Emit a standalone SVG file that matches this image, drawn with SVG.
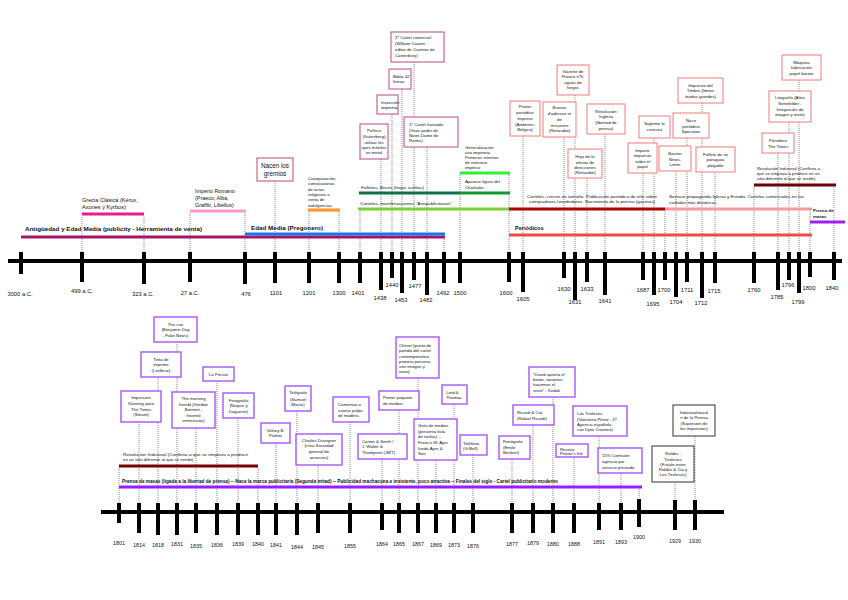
<svg xmlns="http://www.w3.org/2000/svg" width="848" height="600" viewBox="0 0 848 600">
<style>
text{font-family:'Liberation Sans',Arial,sans-serif;fill:#111}
.s{font-size:4.3px}
.m{font-size:4.3px;text-anchor:middle}
.yr{font-size:5.8px;text-anchor:middle}
.yb{font-size:5.3px;text-anchor:middle}
.b{font-weight:bold}
.ax{stroke:#000;stroke-width:4;stroke-linecap:square}
.tk{stroke:#000;stroke-width:4}
.dl{stroke:#444;stroke-width:0.6;stroke-dasharray:1 1;fill:none}
.bar{stroke-width:3.2;fill:none}
.bm{stroke:#b8468a;stroke-width:1;fill:#fff}
.br{stroke:#f07a7a;stroke-width:1;fill:#fff}
.bp{stroke:#a855f7;stroke-width:1.4;fill:#fff}
.bk{stroke:#333;stroke-width:1;fill:#fff}
</style>
<rect width="848" height="600" fill="#fff"/>

<g id="connectors">
<!-- top -->
<path class="dl" d="M82 217V252M144 217V252M190 213V252M245 213V252M275 181V252M309 211V252M339 211V252M360 211V252M381 159V252M392 114V252M402 89V252M414 62V252M427 147V252M444 239V252M460 175V252M509 175V252M523 136V252M564 137V252M575 95V252M587 178V252M605 134V252M643 173V252M654 138V252M665 210V252M676 171V252M687 138V252M702 103V252M715 172V252M754 187V252M778 153V252M789 122V252M799 80V252M810 210V252M834 187V252"/>
<!-- bottom -->
<path class="dl" d="M119 468V503M139 422V503M158 377V503M177 342V503M196 428V503M217 381V503M238 418V503M258 468V503M276 443V503M297 411V503M318 465V503M350 422V503M382 459V503M399 410V503M418 378V503M436 460V503M454 404V503M473 455V503M512 459V503M533 425V503M553 397V503M574 457V503M599 436V503M621 473V503M639 489V499M675 482V500M695 436V500"/>
</g>

<g id="axis-top">
<line class="ax" x1="10" y1="261" x2="840" y2="261"/>
<path class="tk" d="M21 252V274M82 252V282M144 252V284M190 252V282M245 252V284M275 252V283M309 252V283M339 252V283M360 252V283M381 252V290M392 252V278M402 252V293M414 252V280M427 252V295M444 252V283M460 252V283M509 252V282M523 252V292M564 252V278M575 252V300M587 252V282M605 252V295M643 252V280M654 252V295M665 252V280M676 252V297M687 252V282M702 252V298M715 252V283M754 252V283M778 252V290M789 252V280M799 252V293M810 252V277M834 252V280"/>
<text class="yr" x="20" y="296">3000 a.C.</text>
<text class="yr" x="82" y="293">499 a.C.</text>
<text class="yr" x="143" y="296">323 a.C.</text>
<text class="yr" x="190" y="295">27 a.C.</text>
<text class="yr" x="246" y="296">476</text>
<text class="yr" x="276" y="295">1101</text>
<text class="yr" x="309" y="295">1201</text>
<text class="yr" x="339" y="295">1300</text>
<text class="yr" x="358" y="295">1401</text>
<text class="yr" x="380" y="300">1438</text>
<text class="yr" x="392" y="287">1440</text>
<text class="yr" x="401" y="302">1453</text>
<text class="yr" x="415" y="288">1477</text>
<text class="yr" x="426" y="302">1482</text>
<text class="yr" x="443" y="295">1492</text>
<text class="yr" x="460" y="295">1500</text>
<text class="yr" x="506" y="295">1600</text>
<text class="yr" x="523" y="301">1605</text>
<text class="yr" x="564" y="291">1630</text>
<text class="yr" x="575" y="304">1631</text>
<text class="yr" x="587" y="291">1633</text>
<text class="yr" x="605" y="303">1641</text>
<text class="yr" x="643" y="292">1687</text>
<text class="yr" x="653" y="306">1695</text>
<text class="yr" x="664" y="292">1700</text>
<text class="yr" x="676" y="304">1704</text>
<text class="yr" x="687" y="292">1711</text>
<text class="yr" x="701" y="305">1712</text>
<text class="yr" x="714" y="293">1715</text>
<text class="yr" x="754" y="292">1760</text>
<text class="yr" x="777" y="299">1785</text>
<text class="yr" x="788" y="287">1796</text>
<text class="yr" x="798" y="304">1799</text>
<text class="yr" x="809" y="290">1800</text>
<text class="yr" x="832" y="290">1840</text>
</g>

<g id="axis-bottom">
<line class="ax" x1="103" y1="512" x2="722" y2="512"/>
<path class="tk" d="M119 503V523M139 503V533M158 503V535M177 503V535M196 503V533M217 503V535M238 503V535M258 503V535M276 503V535M297 503V535M318 503V533M350 503V533M382 503V530M399 503V533M418 503V533M436 503V533M454 503V533M473 503V533M512 503V533M533 503V533M553 503V533M574 503V533M599 503V530M621 503V530M639 499V527M675 500V530M695 500V530"/>
<text class="yb" x="119" y="545">1801</text>
<text class="yb" x="139" y="547">1814</text>
<text class="yb" x="158" y="547">1818</text>
<text class="yb" x="177" y="546">1831</text>
<text class="yb" x="196" y="548">1835</text>
<text class="yb" x="217" y="547">1836</text>
<text class="yb" x="238" y="546">1839</text>
<text class="yb" x="258" y="546">1840</text>
<text class="yb" x="276" y="547">1841</text>
<text class="yb" x="297" y="549">1844</text>
<text class="yb" x="318" y="549">1845</text>
<text class="yb" x="350" y="548">1855</text>
<text class="yb" x="382" y="546">1864</text>
<text class="yb" x="399" y="546">1865</text>
<text class="yb" x="418" y="546">1867</text>
<text class="yb" x="436" y="547">1869</text>
<text class="yb" x="454" y="547">1873</text>
<text class="yb" x="473" y="548">1876</text>
<text class="yb" x="512" y="546">1877</text>
<text class="yb" x="533" y="545">1879</text>
<text class="yb" x="553" y="546">1880</text>
<text class="yb" x="574" y="546">1888</text>
<text class="yb" x="599" y="544">1891</text>
<text class="yb" x="621" y="544">1893</text>
<text class="yb" x="639" y="539">1900</text>
<text class="yb" x="675" y="543">1929</text>
<text class="yb" x="695" y="543">1930</text>
</g>

<!-- top bars -->
<g id="antiguedad">
<line class="bar" x1="21" y1="237" x2="445" y2="237" stroke="#a31567"/>
<text class="b" x="25" y="231" font-size="5.8" textLength="177" lengthAdjust="spacingAndGlyphs">Antigüedad y Edad Media (publicity - Herramienta de venta)</text>
</g>
<g id="edad-media">
<line class="bar" x1="245" y1="234" x2="445" y2="234" stroke="#1a73e8"/>
<text class="b" x="251" y="230" font-size="6" textLength="72" lengthAdjust="spacingAndGlyphs">Edad Media (Pregonero)</text>
</g>
<g id="grecia">
<line class="bar" x1="82" y1="214" x2="144" y2="214" stroke="#ec1c8c"/>
<text x="82" y="201.5" font-size="5.6">Grecia Clásica (Kérux,</text>
<text x="82" y="209" font-size="5.6">Axones y Kyrbos)</text>
</g>
<g id="imperio">
<line class="bar" x1="190" y1="211" x2="246" y2="211" stroke="#ff99cc"/>
<text x="195" y="192.5" font-size="5.4">Imperio Romano</text>
<text x="195" y="199.5" font-size="5.4">(Praeco, Alba,</text>
<text x="195" y="206.5" font-size="5.4">Graffiti, Libellus)</text>
</g>
<g id="catequizacion">
<line class="bar" x1="308" y1="210" x2="340" y2="210" stroke="#ff9933"/>
<text class="s" x="308" y="179.8">Catequización,</text>
<text class="s" x="308" y="184.8">convocatorias</text>
<text class="s" x="308" y="190.5">de actos</text>
<text class="s" x="308" y="195.5">religiosos o</text>
<text class="s" x="308" y="201.2">venta de</text>
<text class="s" x="308" y="206.5">indulgencias</text>
</g>
<g id="folletos">
<line class="bar" x1="359" y1="193" x2="460" y2="193" stroke="#11704a"/>
<line class="bar" x1="460" y1="193" x2="510" y2="193" stroke="#0d9a2e"/>
<text class="s" x="361" y="189" textLength="63" lengthAdjust="spacingAndGlyphs">Folletos, Bisuts (hojas sueltas)</text>
</g>
<g id="cartelas">
<line class="bar" x1="358" y1="209" x2="510" y2="209" stroke="#7ccf3a"/>
<text class="s" x="360" y="205" textLength="92" lengthAdjust="spacingAndGlyphs">Cartelas, manifestaciones "Antipublicitarias"</text>
</g>
<g id="generalizacion">
<line class="bar" x1="460" y1="173" x2="510" y2="173" stroke="#33ee33"/>
<text class="s" x="465" y="148.8">Generalización</text>
<text class="s" x="465" y="154.2">uso imprenta.</text>
<text class="s" x="465" y="159.2">Primeros intentos</text>
<text class="s" x="465" y="164.2">de noticiero</text>
<text class="s" x="465" y="168.8">impreso</text>
<text class="s" x="465" y="183">Aparece figura del</text>
<text class="s" x="465" y="188.5">Charlatán</text>
</g>
<g id="carteles-1600">
<line class="bar" x1="509" y1="209" x2="665" y2="209" stroke="#b00000"/>
<text class="m" x="592" y="197.5" textLength="130" lengthAdjust="spacingAndGlyphs">Carteles, crecen en tamaño. Publicación periódica de info sobre</text>
<text class="m" x="592" y="203" textLength="126" lengthAdjust="spacingAndGlyphs">compradores /vendedores. Nacimiento de la prensa (gacetas)</text>
</g>
<g id="servicio">
<line class="bar" x1="665" y1="209" x2="812" y2="209" stroke="#ff9a9a"/>
<text class="s" x="669" y="198.2" textLength="135" lengthAdjust="spacingAndGlyphs">Servicio propaganda Iglesia y Estado. Carteles comerciales en las</text>
<text class="s" x="669" y="203.5">ciudades más dinámicas</text>
</g>
<g id="periodicos">
<line class="bar" x1="509" y1="235" x2="812" y2="235" stroke="#f04b4b"/>
<text class="b" x="515" y="230" font-size="5.6">Periódicos</text>
</g>
<g id="revolucion-top">
<line class="bar" x1="754" y1="185" x2="836" y2="185" stroke="#6b0000"/>
<text class="s" x="757" y="169.8">Revolución Industrial (Conlleva a</text>
<text class="s" x="757" y="174.8">que se empieza a producir en un</text>
<text class="s" x="757" y="179.8">sitio diferente al que se vende)</text>
</g>
<g id="prensa-masas-top">
<line class="bar" x1="810" y1="222" x2="845" y2="222" stroke="#a020f0"/>
<text class="s b" x="813" y="212.3">Prensa de</text>
<text class="s b" x="813" y="217.8">masas</text>
</g>

<!-- top boxes -->
<g id="nacen-gremios">
<rect class="bm" x="257" y="158" width="36" height="23"/>
<text x="275" y="168" font-size="6.3" text-anchor="middle">Nacen los</text>
<text x="275" y="175.5" font-size="6.3" text-anchor="middle">gremios</text>
</g>
<g id="politico">
<rect class="bm" x="360" y="124" width="28" height="35"/>
<text class="m" x="374" y="132.2">Político</text>
<text class="m" x="374" y="137.8">(Gutenberg)</text>
<text class="m" x="374" y="143.5">utilizar los</text>
<text class="m" x="374" y="148.8">tipos móviles</text>
<text class="m" x="374" y="154.2">en metal</text>
</g>
<g id="invencion">
<rect class="bm" x="377" y="95" width="21" height="19"/>
<text class="s" x="381" y="104.2">Invención</text>
<text class="s" x="381" y="109.2">imprenta</text>
</g>
<g id="biblia">
<rect class="bm" x="389" y="69" width="22" height="20"/>
<text class="s" x="393" y="78.2">Biblia 42</text>
<text class="s" x="393" y="83.2">líneas</text>
</g>
<g id="cartel-comercial">
<rect class="bm" x="391" y="32" width="53" height="30"/>
<text class="s" x="395" y="38.8">1º Cartel comercial</text>
<text class="s" x="395" y="45.2">(William Caxton -</text>
<text class="s" x="395" y="51.3">editor de Cuentos de</text>
<text class="s" x="395" y="57.2">Canterbury)</text>
</g>
<g id="cartel-ilustrado">
<rect class="bm" x="404" y="117" width="54" height="30"/>
<text class="s" x="409" y="125.8">1º Cartel ilustrado</text>
<text class="s" x="409" y="131.5">(Gran poder de</text>
<text class="s" x="409" y="136.8">Notre-Dame de</text>
<text class="s" x="409" y="142.2">Reims)</text>
</g>
<g id="primer-periodico">
<rect class="br" x="510" y="101" width="30" height="35"/>
<text class="m" x="525" y="108.2">Primer</text>
<text class="m" x="525" y="114.2">periódico</text>
<text class="m" x="525" y="119.8">impreso</text>
<text class="m" x="525" y="125.5">(Amberes,</text>
<text class="m" x="525" y="130.8">Bélgica)</text>
</g>
<g id="gazette">
<rect class="br" x="557" y="65" width="32" height="30"/>
<text class="m" x="573" y="72.5">Gazette de</text>
<text class="m" x="573" y="78.2">France nº6:</text>
<text class="m" x="573" y="83.8">aguas de</text>
<text class="m" x="573" y="89.2">forges</text>
</g>
<g id="bureau">
<rect class="br" x="543" y="102" width="33" height="35"/>
<text class="m" x="559.5" y="109.2">Bureau</text>
<text class="m" x="559.5" y="114.8">d'adresse et</text>
<text class="m" x="559.5" y="120.5">de</text>
<text class="m" x="559.5" y="126.5">rencontre</text>
<text class="m" x="559.5" y="132.2">(Renaudot)</text>
</g>
<g id="revolucion-inglesa">
<rect class="br" x="587" y="104" width="38" height="30"/>
<text class="m" x="606" y="113.2">Revolución</text>
<text class="m" x="606" y="118.2">Inglesa</text>
<text class="m" x="606" y="123.8">(libertad de</text>
<text class="m" x="606" y="129.5">prensa)</text>
</g>
<g id="hoja-oficina">
<rect class="br" x="568" y="149" width="34" height="29"/>
<text class="m" x="585" y="158.2">Hoja de la</text>
<text class="m" x="585" y="163.5">oficina de</text>
<text class="m" x="585" y="168.8">direcciones</text>
<text class="m" x="585" y="174.2">(Renaudot)</text>
</g>
<g id="suprime">
<rect class="br" x="639" y="116" width="31" height="22"/>
<text class="m" x="654.5" y="124.8">Suprime la</text>
<text class="m" x="654.5" y="131">censura</text>
</g>
<g id="impone">
<rect class="br" x="628" y="143" width="29" height="30"/>
<text class="m" x="642.5" y="151.5">Impone</text>
<text class="m" x="642.5" y="157.2">impuesto</text>
<text class="m" x="642.5" y="162.5">sobre el</text>
<text class="m" x="642.5" y="168.2">papel</text>
</g>
<g id="boston">
<rect class="br" x="659" y="146" width="32" height="25"/>
<text class="m" x="675" y="154.8">Boston</text>
<text class="m" x="675" y="160.5">News-</text>
<text class="m" x="675" y="166.2">Letter</text>
</g>
<g id="spectator">
<rect class="br" x="673" y="113" width="36" height="25"/>
<text class="m" x="691" y="121.5">Nace</text>
<text class="m" x="691" y="127.5">periódico</text>
<text class="m" x="691" y="133.2">Spectator</text>
</g>
<g id="impuesto-timbre">
<rect class="br" x="678" y="78" width="45" height="25"/>
<text class="m" x="700.5" y="86.5">Impuesto del</text>
<text class="m" x="700.5" y="92.2">Timbre (limitar</text>
<text class="m" x="700.5" y="97.5">tiradas grandes)</text>
</g>
<g id="folleto-paraguas">
<rect class="br" x="696" y="147" width="39" height="25"/>
<text class="m" x="715.5" y="155.5">Folleto de un</text>
<text class="m" x="715.5" y="160.8">paraguas</text>
<text class="m" x="715.5" y="166.5">plegable</text>
</g>
<g id="the-times">
<rect class="br" x="762" y="133" width="32" height="20"/>
<text class="m" x="778" y="141.5">Periódico</text>
<text class="m" x="778" y="147.5">The Times</text>
</g>
<g id="litografia">
<rect class="br" x="769" y="91" width="42" height="31"/>
<text class="m" x="790" y="99.2">Litografía (Alois</text>
<text class="m" x="790" y="104.8">Senefelder -</text>
<text class="m" x="790" y="110.5">Integración de</text>
<text class="m" x="790" y="115.8">imagen y texto)</text>
</g>
<g id="maquina">
<rect class="br" x="782" y="55" width="39" height="25"/>
<text class="m" x="801.5" y="63.8">Máquina</text>
<text class="m" x="801.5" y="69.2">fabricación</text>
<text class="m" x="801.5" y="74.8">papel barato</text>
</g>

<!-- bottom bars -->
<g id="revolucion-bottom">
<line class="bar" x1="119" y1="466" x2="258" y2="466" stroke="#7a0000"/>
<text class="s" x="123" y="455.5" textLength="125" lengthAdjust="spacingAndGlyphs">Revolución Industrial (Conlleva a que se empieza a producir</text>
<text class="s" x="123" y="460.7">en un sitio diferente al que se vende)</text>
</g>
<g id="prensa-masas-bottom">
<line class="bar" x1="119" y1="487" x2="642" y2="487" stroke="#9b1cff"/>
<text class="b" x="122" y="482.5" font-size="4.6" textLength="436" lengthAdjust="spacingAndGlyphs">Prensa de masas (ligada a la libertad de prensa) -- Nace la marca publicitaria (Segunda mitad) -- Publicidad machacona e insistente, poco atractiva -- Finales del siglo - Cartel publicitario moderno</text>
</g>

<!-- bottom boxes -->
<g id="the-sun">
<rect class="bp" x="154" y="317" width="43" height="25"/>
<text class="m" x="175.5" y="325.5">The sun</text>
<text class="m" x="175.5" y="330.8">(Benjamin Day</text>
<text class="m" x="175.5" y="336.5">- Fake News)</text>
</g>
<g id="tinta">
<rect class="bp" x="141" y="352" width="40" height="25"/>
<text class="m" x="161" y="360.5">Tinta de</text>
<text class="m" x="161" y="365.8">imprimir</text>
<text class="m" x="161" y="371.5">(Lorilleux)</text>
</g>
<g id="la-presse">
<rect class="bp" x="203" y="367" width="31" height="14"/>
<text class="m" x="218.5" y="375.8">La Presse</text>
</g>
<g id="impresora">
<rect class="bp" x="121" y="391" width="40" height="31"/>
<text class="m" x="141" y="399.2">Impresora</text>
<text class="m" x="141" y="404.8">Köening para</text>
<text class="m" x="141" y="410.5">The Times</text>
<text class="m" x="141" y="415.8">(Steam)</text>
</g>
<g id="morning-herald">
<rect class="bp" x="172" y="392" width="43" height="36"/>
<text class="m" x="193.5" y="399.8">The morning</text>
<text class="m" x="193.5" y="405.5">herald (Gordon</text>
<text class="m" x="193.5" y="410.8">Bennett -</text>
<text class="m" x="193.5" y="416.5">Inventó</text>
<text class="m" x="193.5" y="421.8">entrevistas)</text>
</g>
<g id="fotografia">
<rect class="bp" x="223" y="393" width="31" height="25"/>
<text class="m" x="238.5" y="401.5">Fotografía</text>
<text class="m" x="238.5" y="406.8">(Niepce y</text>
<text class="m" x="238.5" y="412.5">Daguerre)</text>
</g>
<g id="volney">
<rect class="bp" x="261" y="423" width="29" height="20"/>
<text class="m" x="275.5" y="431.5">Volney B.</text>
<text class="m" x="275.5" y="437.2">Palmer</text>
</g>
<g id="telegrafo">
<rect class="bp" x="285" y="386" width="26" height="25"/>
<text class="m" x="298" y="394.2">Telégrafo</text>
<text class="m" x="298" y="400.5">(Samuel</text>
<text class="m" x="298" y="405.8">Morse)</text>
</g>
<g id="duveyrier">
<rect class="bp" x="296" y="434" width="46" height="31"/>
<text class="m" x="319" y="441.5">Charles Duveyrier</text>
<text class="m" x="319" y="447.2">(crea Sociedad</text>
<text class="m" x="319" y="453.2">general de</text>
<text class="m" x="319" y="458.8">anuncios)</text>
</g>
<g id="pulpa">
<rect class="bp" x="333" y="397" width="36" height="25"/>
<text class="s" x="338" y="405.5">Comienza a</text>
<text class="s" x="338" y="411.5">usarse pulpa</text>
<text class="s" x="338" y="416.8">de madera</text>
</g>
<g id="carton-jwt">
<rect class="bp" x="358" y="434" width="49" height="25"/>
<text class="s" x="362" y="442.5">Carton &amp; Smith /</text>
<text class="s" x="362" y="448.2">J. Walter &amp;</text>
<text class="s" x="362" y="453.8">Thompson (JWT)</text>
</g>
<g id="paquete-medios">
<rect class="bp" x="379" y="391" width="40" height="19"/>
<text class="s" x="383" y="399.2">Primer paquete</text>
<text class="s" x="383" y="404.8">de medios</text>
</g>
<g id="cheret">
<rect class="bp" x="396" y="337" width="43" height="41"/>
<text class="s" x="399" y="346.5">Cheret (punto de</text>
<text class="s" x="399" y="352.2">partida del cartel</text>
<text class="s" x="399" y="357.5">contemporáneo,</text>
<text class="s" x="399" y="362.8">primera persona</text>
<text class="s" x="399" y="368.2">unir imagen y</text>
<text class="s" x="399" y="373.2">texto)</text>
</g>
<g id="lord-thomas">
<rect class="bp" x="442" y="385" width="25" height="19"/>
<text class="s" x="446" y="393.8">Lord &amp;</text>
<text class="s" x="446" y="399.2">Thomas</text>
</g>
<g id="guia-medios">
<rect class="bp" x="414" y="419" width="43" height="41"/>
<text class="s" x="418" y="427.2">Guía de medios</text>
<text class="s" x="418" y="432.5">(presenta lista</text>
<text class="s" x="418" y="438.2">de tarifas) --</text>
<text class="s" x="418" y="443.8">Francis W. Ayer</text>
<text class="s" x="418" y="449.5">funda Ayer &amp;</text>
<text class="s" x="418" y="454.8">Son</text>
</g>
<g id="telefono">
<rect class="bp" x="460" y="435" width="27" height="20"/>
<text class="s" x="463" y="444.8">Teléfono</text>
<text class="s" x="463" y="449.8">(G.Bell)</text>
</g>
<g id="fonografo">
<rect class="bp" x="499" y="436" width="31" height="23"/>
<text class="s" x="503" y="443.2">Fonógrafo</text>
<text class="s" x="503" y="448.8">(Emile</text>
<text class="s" x="503" y="453.8">Berliner)</text>
</g>
<g id="ricordi">
<rect class="bp" x="513" y="405" width="41" height="20"/>
<text class="s" x="517" y="413.8">Ricordi &amp; Cia</text>
<text class="s" x="517" y="419.5">(Rafael Ricordi)</text>
</g>
<g id="kodak">
<rect class="bp" x="529" y="367" width="46" height="30"/>
<text class="s" x="533" y="375.5">"Usted aprieta el</text>
<text class="s" x="533" y="380.8">botón, nosotros</text>
<text class="s" x="533" y="386.2">hacemos el</text>
<text class="s" x="533" y="391.5">resto" - Kodak</text>
</g>
<g id="printers-ink">
<rect class="bp" x="556" y="444" width="32" height="13"/>
<text class="s" x="560" y="450.5">Revista</text>
<text class="s" x="560" y="455.3">Printer's Ink</text>
</g>
<g id="tiroleses">
<rect class="bp" x="573" y="406" width="54" height="30"/>
<text class="s" x="577" y="414.8">Los Tiroleses</text>
<text class="s" x="577" y="420.5">(Valeriano Pérez - 1ª</text>
<text class="s" x="577" y="425.8">Agencia española</text>
<text class="s" x="577" y="431.2">con Dpto Creativo)</text>
</g>
<g id="comision">
<rect class="bp" x="598" y="448" width="44" height="25"/>
<text class="s" x="602" y="457.2">15% Comisión</text>
<text class="s" x="602" y="463.2">agencia por</text>
<text class="s" x="602" y="468.8">servicio prestado</text>
</g>
<g id="industrializacion">
<rect class="bk" x="673" y="405" width="42" height="31"/>
<text class="m" x="694" y="413.5">Industrializació</text>
<text class="m" x="694" y="419">n de la Prensa</text>
<text class="m" x="694" y="424.5">(Supresión de</text>
<text class="m" x="694" y="430">los impuestos)</text>
</g>
<g id="roldos">
<rect class="bk" x="652" y="446" width="42" height="36"/>
<text class="m" x="673" y="454.8">Roldós -</text>
<text class="m" x="673" y="460.5">Tiroleses</text>
<text class="m" x="673" y="465.8">(Fusión entre</text>
<text class="m" x="673" y="470.8">Roldós &amp; Cia y</text>
<text class="m" x="673" y="475.8">Los Tiroleses)</text>
</g>
</svg>
